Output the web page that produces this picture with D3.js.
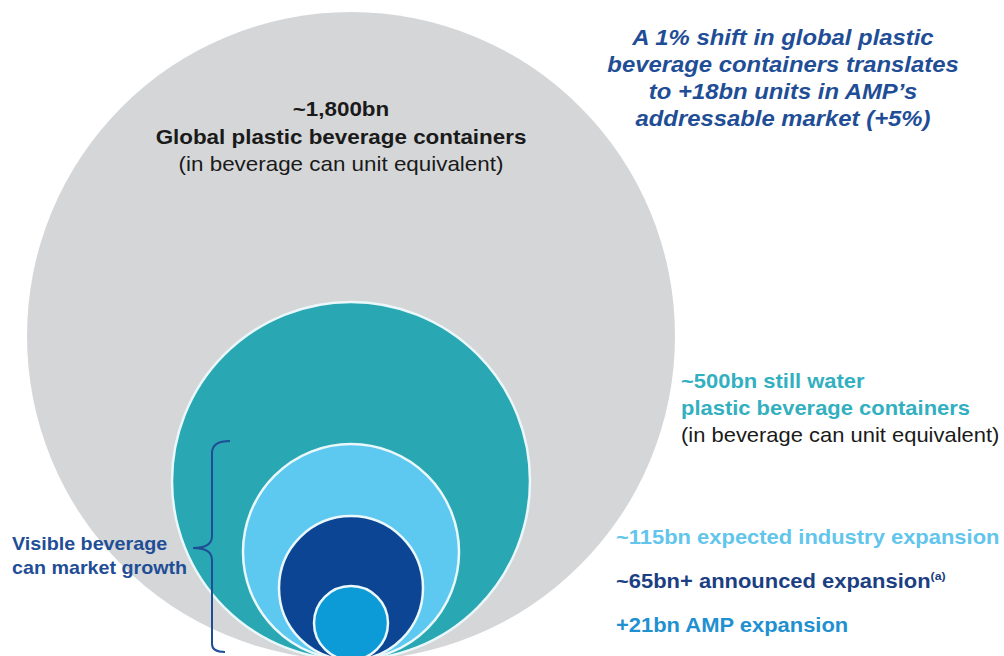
<!DOCTYPE html>
<html>
<head>
<meta charset="utf-8">
<script src="https://cdn.jsdelivr.net/npm/d3@7"></script>
<style>
  html, body { margin: 0; padding: 0; background: #fff; }
  svg { display: block; font-family: "Liberation Sans", Arial, sans-serif; }
</style>
</head>
<body>
<div id="chart"></div>
<script>
// market segments, biggest first (bn units, beverage can equivalent)
var segments = ["Global", "Still water", "Industry expansion", "Announced expansion", "AMP expansion"];
var values = [1800, 500, 115, 65, 21];

var headline = [
	"A 1% shift in global plastic",
	"beverage containers translates",
	"to +18bn units in AMP\u2019s",
	"addressable market (+5%)"
];
var globalLabel = ["~1,800bn", "Global plastic beverage containers", "(in beverage can unit equivalent)"];
var stillLabel = ["~500bn still water", "plastic beverage containers", "(in beverage can unit equivalent)"];
var expansionLabels = ["~115bn expected industry expansion", "~65bn+ announced expansion", "+21bn AMP expansion"];
var growthLabel = ["Visible beverage", "can market growth"];

var width = 1004, height = 656;
var fills = ["#d5d6d8", "#29a8b3", "#5dc8f0", "#0b4593", "#0d9bd8"];
var labelColors = ["#222", "#33b0bf", "#62c5ec", "#1b3f82", "#1f90d0"];
var blue = "#1f4e96";
var sx = 1.12; // slide text is a bit wider than the font

var svg = d3.select("#chart").append("svg")
	.attr("width", width)
	.attr("height", height);

// radius scale (not strictly area-proportional)
var r = d3.scaleLinear()
	.domain(values.slice().reverse())
	.range([37, 72, 108, 179, 324]);

var cx = 351, base = 660;

svg.selectAll("circle.seg")
	.data(values)
	.enter()
	.append("circle")
	.attr("class", "seg")
	.attr("cx", cx)
	.attr("cy", function(d) { return base - r(d); })
	.attr("r", function(d) { return r(d); })
	.attr("fill", function(d, i) { return fills[i]; })
	.attr("stroke", function(d, i) { return i === 0 ? "none" : "#eaf8fb"; })
	.attr("stroke-width", 2.5);

function lines(x, y0, step, texts, opts) {
	var g = svg.append("g");
	texts.forEach(function(t, i) {
		var y = y0 + i * step;
		var o = (typeof opts === "function") ? opts(i) : opts;
		g.append("text")
			.attr("transform", "translate(" + x + "," + y + ") scale(" + sx + ",1)")
			.attr("text-anchor", o.anchor || "start")
			.attr("font-size", o.size)
			.attr("font-weight", o.weight || "bold")
			.attr("font-style", o.style || "normal")
			.attr("fill", o.color)
			.text(t);
	});
	return g;
}

// headline top right
lines(783, 45, 27, headline, {anchor: "middle", size: 21.3, style: "italic", color: blue});

// big grey circle label
lines(341, 116, 27.5, globalLabel, function(i) {
	return {anchor: "middle", size: 20, weight: i === 2 ? "normal" : "bold", color: "#1a1a1a"};
});

// still water label
lines(681, 388, 27, stillLabel, function(i) {
	return {size: 19.6, weight: i === 2 ? "normal" : "bold", color: i === 2 ? "#1a1a1a" : labelColors[1]};
});

// expansion labels
var exp = lines(616, 544, 44, expansionLabels, function(i) {
	return {size: 19.6, color: labelColors[i + 2]};
});
// footnote marker on the announced line
var ann = exp.selectAll("text").filter(function(d, i) { return i === 1; });
ann.append("tspan")
	.attr("dy", -8)
	.attr("font-size", 11)
	.text("(a)");

// growth bracket label
lines(12, 550, 23.5, growthLabel, {size: 17.6, color: blue});

// curly brace
var bx = 212, braceTop = 441, braceMid = 548, braceBot = 652;
var brace = d3.path();
brace.moveTo(bx + 18, braceTop);
brace.quadraticCurveTo(bx, braceTop, bx, braceTop + 12);
brace.lineTo(bx, braceMid - 12);
brace.quadraticCurveTo(bx, braceMid, bx - 19, braceMid);
brace.quadraticCurveTo(bx, braceMid, bx, braceMid + 12);
brace.lineTo(bx, braceBot - 8);
brace.quadraticCurveTo(bx, braceBot, bx + 13, braceBot);
svg.append("path")
	.attr("d", brace.toString())
	.attr("fill", "none")
	.attr("stroke", blue)
	.attr("stroke-width", 2);
</script>
</body>
</html>
